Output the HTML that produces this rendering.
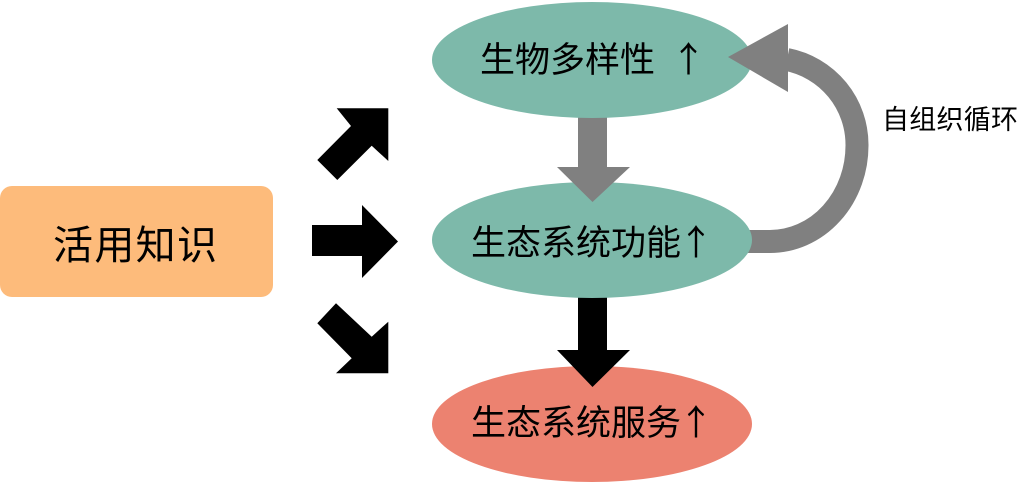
<!DOCTYPE html>
<html>
<head>
<meta charset="utf-8">
<style>
  html, body { margin: 0; padding: 0; background: #ffffff; }
  body { width: 1024px; height: 483px; overflow: hidden; }
  svg { display: block; }
  .cjk { font-family: "Liberation Sans", "Noto Sans CJK SC", sans-serif; fill: #000; }
  .arr { font-family: "Noto Sans CJK SC", "Noto Sans CJK JP", sans-serif; fill: #000; }
</style>
</head>
<body>
<svg width="1024" height="483" viewBox="0 0 1024 483" xmlns="http://www.w3.org/2000/svg">
  <!-- left box -->
  <rect x="0" y="186" width="273" height="111" rx="12" ry="12" fill="#FDBB7B"/>
  <text class="cjk" x="53" y="259" font-size="40" textLength="164" lengthAdjust="spacing">活用知识</text>

  <!-- curved gray arrow body (under ellipses) -->
  <path d="M 787 59.5 A 87 87 0 0 1 857 145 A 87 96 0 0 1 770 241.5 L 740 241.5" fill="none" stroke="#808080" stroke-width="23"/>

  <!-- shafts under ellipses -->
  <rect x="578" y="110" width="29" height="58" fill="#808080"/>
  <rect x="578" y="290" width="29" height="61" fill="#000"/>

  <!-- ellipses -->
  <ellipse cx="592" cy="60" rx="160" ry="58" fill="#7DB9AA"/>
  <ellipse cx="592" cy="240" rx="160" ry="58" fill="#7DB9AA"/>
  <ellipse cx="592" cy="424" rx="160" ry="58" fill="#EC8270"/>

  <!-- arrow heads on top -->
  <polygon points="557,167 630,167 592.5,202" fill="#808080"/>
  <polygon points="557,350 630,350 592.5,387" fill="#000"/>
  <polygon points="728,57 788,24 788,92" fill="#808080"/>

  <!-- black arrows from left box -->
  <polygon points="336.7,108.3 388.3,108.3 388.3,161 371.7,145.7 337.3,180 317.3,160 351,126" fill="#000"/>
  <polygon points="312,225 362,225 362,205 398,241.5 362,278 362,256 312,256" fill="#000"/>
  <polygon points="317.3,323.3 336,303.3 371.7,336.7 388.3,321.7 388.3,373.3 336,373.3 351.7,358.3" fill="#000"/>

  <!-- ellipse labels -->
  <text class="cjk" x="480" y="72" font-size="35" textLength="175" lengthAdjust="spacing">生物多样性</text>
  <text class="arr" x="688.5" y="72" font-size="35" text-anchor="middle">↑</text>

  <text class="cjk" x="471" y="255" font-size="35" textLength="210" lengthAdjust="spacing">生态系统功能</text>
  <text class="arr" x="696" y="255" font-size="35" text-anchor="middle">↑</text>

  <text class="cjk" x="471" y="435" font-size="35" textLength="210" lengthAdjust="spacing">生态系统服务</text>
  <text class="arr" x="696" y="435" font-size="35" text-anchor="middle">↑</text>

  <!-- loop label -->
  <text class="cjk" x="882" y="129" font-size="27" textLength="136" lengthAdjust="spacing">自组织循环</text>
</svg>
</body>
</html>
